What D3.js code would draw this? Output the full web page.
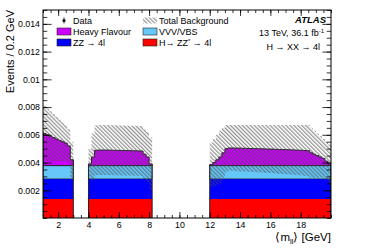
<!DOCTYPE html>
<html>
<head>
<meta charset="utf-8">
<script src="https://cdn.jsdelivr.net/npm/d3@7"></script>
<style>
  body { margin: 0; background: #fff; }
  svg { font-family: "Liberation Sans", Arial, sans-serif; }
</style>
</head>
<body>
<svg id="chart" width="374" height="250"></svg>
<script>
// chart data (0.2 GeV bins)
var binWidth = 0.2;
var regionStarts = [1.0, 4.0, 12.0];

// flat components, same in every bin
var hzzValue = 0.00137;   // H -> ZZ* -> 4l
var zzValue = 0.00146;    // ZZ -> 4l
var vvvValue = 0.00095;   // VVV/VBS

// heavy flavour per bin, one array per mass window
var hfLow = [0.00232, 0.00222, 0.00212, 0.00202, 0.00192, 0.00182, 0.00172, 0.00162, 0.00142, 0.00042];
var hfMid = [0.00012, 0.00062, 0.0011, 0.00112, 0.00112, 0.00112, 0.00112, 0.00111, 0.0011, 0.0011,
  0.00109, 0.00109, 0.00108, 0.00108, 0.00107, 0.00107, 0.00106, 0.00105, 0.00082, 0.00062, 0.00012];
var hfHigh = [0.00007, 0.00022, 0.00042, 0.00062, 0.00092, 0.00122,
  0.00127, 0.00127, 0.00126, 0.00126, 0.00125, 0.00125, 0.00124, 0.00123, 0.00123, 0.00122,
  0.00121, 0.00121, 0.0012, 0.00119, 0.00119, 0.00118, 0.00117, 0.00116, 0.00116, 0.00115,
  0.00114, 0.00113, 0.00112, 0.00111, 0.0011, 0.00109, 0.00107,
  0.00092, 0.00082, 0.00072, 0.00062, 0.00052, 0.00032, 0.00012];

// total background uncertainty per bin
var errLow = [0.0020, 0.0019, 0.0018, 0.0017, 0.0016, 0.0015, 0.0014, 0.0013, 0.0012, 0.0013];
var errMid = [0.0011, 0.0017, 0.0018, 0.0018, 0.0018, 0.0018, 0.0018, 0.0018, 0.0018, 0.0018,
  0.0018, 0.0018, 0.0018, 0.0018, 0.0018, 0.0018, 0.0018, 0.0018, 0.0018, 0.0018, 0.0019];
var errHigh = [0.0016, 0.0017, 0.0018, 0.0019, 0.0018, 0.0017,
  0.00165, 0.00165, 0.00166, 0.00166, 0.00167, 0.00167, 0.00168, 0.00169, 0.00169, 0.0017,
  0.00171, 0.00171, 0.00172, 0.00173, 0.00173, 0.00174, 0.00175, 0.00176, 0.00176, 0.00177,
  0.00178, 0.00179, 0.0018, 0.00181, 0.00182, 0.00183, 0.00185,
  0.0018, 0.0017, 0.0016, 0.0015, 0.0014, 0.0014, 0.0014];

var xTicks = [2, 4, 6, 8, 10, 12, 14, 16, 18];
var yTicks = [0.002, 0.004, 0.006, 0.008, 0.01, 0.012, 0.014];

var hfRegions = [hfLow, hfMid, hfHigh];
var errRegions = [errLow, errMid, errHigh];

var colors = {
  hzz: "#ff0000",
  zz: "#0000ff",
  vvv: "#66c8f8",
  hf: "#cc00ff"
};

var margin = {top: 10, right: 43, bottom: 32, left: 43},
    width = 374 - margin.left - margin.right,
    height = 250 - margin.top - margin.bottom;

var svg = d3.select("#chart");

var defs = svg.append("defs");
var hatch = defs.append("pattern")
  .attr("id", "hatch")
  .attr("patternUnits", "userSpaceOnUse")
  .attr("width", 2.8)
  .attr("height", 2.8)
  .attr("patternTransform", "rotate(-45)");
hatch.append("line")
  .attr("x1", 0.7).attr("y1", 0).attr("x2", 0.7).attr("y2", 2.8)
  .attr("stroke", "#4a4a4a")
  .attr("stroke-width", 0.75);

defs.append("clipPath").attr("id", "plotclip")
  .append("rect").attr("width", width).attr("height", height);

var g = svg.append("g").attr("transform", "translate(" + margin.left + "," + margin.top + ")");

var x = d3.scaleLinear().domain([1, 20]).range([0, width]);
var y = d3.scaleLinear().domain([0, 0.015]).range([height, 0]);

// build stacked rows per region
var regions = regionStarts.map(function(start, r) {
  var rows = hfRegions[r].map(function(hf, i) {
    var b0 = hzzValue, b1 = b0 + zzValue, b2 = b1 + vvvValue, b3 = b2 + hf;
    return {x: start + i * binWidth, hzz: [0, b0], zz: [b0, b1], vvv: [b1, b2], hf: [b2, b3],
            err: errRegions[r][i], total: b3};
  });
  // closing point so the last step reaches the region edge
  var last = rows[rows.length - 1];
  rows.push(Object.assign({}, last, {x: last.x + binWidth}));
  return rows;
});

var plot = g.append("g").attr("clip-path", "url(#plotclip)");

var layers = ["hzz", "zz", "vvv", "hf"];
layers.forEach(function(key) {
  var area = d3.area()
    .curve(d3.curveStepAfter)
    .x(function(d) { return x(d.x); })
    .y0(function(d) { return y(d[key][0]); })
    .y1(function(d) { return y(d[key][1]); });

  regions.forEach(function(rows) {
    plot.append("path")
      .datum(rows)
      .attr("d", area)
      .attr("fill", colors[key])
      .attr("stroke", key == "hzz" || key == "zz" ? "none" : "#222")
      .attr("stroke-width", key == "hf" ? 1 : 0.6);
  });
});

// vertical edges of each window
regions.forEach(function(rows) {
  var top = rows[0].total, topEnd = rows[rows.length - 1].total;
  plot.append("line")
    .attr("x1", x(rows[0].x)).attr("x2", x(rows[0].x))
    .attr("y1", y(0)).attr("y2", y(top))
    .attr("stroke", "#222").attr("stroke-width", 1);
  plot.append("line")
    .attr("x1", x(rows[rows.length - 1].x)).attr("x2", x(rows[rows.length - 1].x))
    .attr("y1", y(0)).attr("y2", y(topEnd))
    .attr("stroke", "#222").attr("stroke-width", 1);
});

// uncertainty band
var band = d3.area()
  .curve(d3.curveStepAfter)
  .x(function(d) { return x(d.x); })
  .y0(function(d) { return y(d.total - d.err); })
  .y1(function(d) { return y(d.total + d.err); });

regions.forEach(function(rows) {
  plot.append("path")
    .datum(rows)
    .attr("d", band)
    .attr("fill", "url(#hatch)")
    .attr("stroke", "none");
});

// axes, ticks pointing inside on all four sides
function noLabel() { return ""; }
var xMinor = d3.range(1, 20.01, 0.5);
var yMinor = d3.range(0, 0.0151, 0.0005);

g.append("g").attr("class", "axis")
  .attr("transform", "translate(0," + height + ")")
  .call(d3.axisBottom(x).tickValues(xMinor).tickSize(-3).tickFormat(noLabel));
g.append("g").attr("class", "axis")
  .attr("transform", "translate(0," + height + ")")
  .call(d3.axisBottom(x).tickValues(xTicks).tickSize(-6).tickPadding(4).tickFormat(d3.format("d")));
g.append("g").attr("class", "axis")
  .call(d3.axisTop(x).tickValues(xMinor).tickSize(-3).tickFormat(noLabel));
g.append("g").attr("class", "axis")
  .call(d3.axisTop(x).tickValues(xTicks).tickSize(-6).tickFormat(noLabel));

g.append("g").attr("class", "axis")
  .call(d3.axisLeft(y).tickValues(yMinor).tickSize(-4.3).tickFormat(noLabel));
g.append("g").attr("class", "axis")
  .call(d3.axisLeft(y).tickValues(yTicks).tickSize(-8.6).tickPadding(3)
    .tickFormat(function(d) { return String(+d.toFixed(3)); }));
g.append("g").attr("class", "axis")
  .attr("transform", "translate(" + width + ",0)")
  .call(d3.axisRight(y).tickValues(yMinor).tickSize(-4.3).tickFormat(noLabel));
g.append("g").attr("class", "axis")
  .attr("transform", "translate(" + width + ",0)")
  .call(d3.axisRight(y).tickValues(yTicks).tickSize(-8.6).tickFormat(noLabel));

g.selectAll(".axis .domain").remove();
g.selectAll(".axis text")
  .attr("font-size", "8.8px")
  .attr("font-family", "Liberation Sans, Arial, sans-serif")
  .attr("fill", "#000");
g.selectAll(".axis line").attr("stroke", "#000").attr("stroke-width", 0.8);

g.append("rect")
  .attr("width", width).attr("height", height)
  .attr("fill", "none").attr("stroke", "#000").attr("stroke-width", 1);

// axis titles
svg.append("text")
  .attr("transform", "translate(14," + margin.top + ") rotate(-90)")
  .attr("text-anchor", "end")
  .attr("font-size", "11px")
  .text("Events / 0.2 GeV");

var xt = svg.append("text")
  .attr("x", margin.left + width)
  .attr("y", 241)
  .attr("text-anchor", "end")
  .attr("font-size", "11.5px");
xt.append("tspan").text("\u27E8m");
xt.append("tspan").attr("font-size", "7.5px").attr("dy", 2.5).text("ll");
xt.append("tspan").attr("dy", -2.5).text("\u27E9 [GeV]");

// legend
var legend = svg.append("g").attr("font-size", "9px");
var legendRows = [
  {col: 0, row: 0, label: "Data", kind: "data"},
  {col: 0, row: 1, label: "Heavy Flavour", fill: colors.hf},
  {col: 0, row: 2, label: "ZZ \u2192 4l", fill: colors.zz},
  {col: 1, row: 0, label: "Total Background", kind: "hatch"},
  {col: 1, row: 1, label: "VVV/VBS", fill: colors.vvv},
  {col: 1, row: 2, label: "H\u2192 ZZ* \u2192 4l", fill: colors.hzz}
];
var colX = [57, 143], rowY = [20.5, 31.5, 42.5];

legendRows.forEach(function(item) {
  var bx = colX[item.col], cy = rowY[item.row];
  if (item.kind == "data") {
    legend.append("line")
      .attr("x1", bx + 7).attr("x2", bx + 7)
      .attr("y1", cy - 3).attr("y2", cy + 3)
      .attr("stroke", "#000").attr("stroke-width", 0.8);
    legend.append("circle")
      .attr("cx", bx + 7).attr("cy", cy).attr("r", 1.6).attr("fill", "#000");
  } else if (item.kind == "hatch") {
    legend.append("rect")
      .attr("x", bx).attr("y", cy - 3).attr("width", 14).attr("height", 6)
      .attr("fill", "url(#hatch)");
  } else {
    legend.append("rect")
      .attr("x", bx).attr("y", cy - 3.5).attr("width", 14).attr("height", 7)
      .attr("fill", item.fill).attr("stroke", "#222").attr("stroke-width", 0.6);
  }
  var t = legend.append("text")
    .attr("x", bx + 16)
    .attr("y", cy + 3.2);
  if (item.label.indexOf("ZZ*") >= 0) {
    t.append("tspan").text("H\u2192 ZZ");
    t.append("tspan").attr("font-size", "6px").attr("dy", -3).text("*");
    t.append("tspan").attr("dy", 3).text(" \u2192 4l");
  } else {
    t.text(item.label);
  }
});

// ATLAS label block
var right = margin.left + width - 5;
svg.append("text")
  .attr("x", right).attr("y", 23)
  .attr("text-anchor", "end")
  .attr("font-size", "9.5px")
  .attr("font-weight", "bold")
  .attr("font-style", "italic")
  .text("ATLAS");

var lumi = svg.append("text")
  .attr("x", right - 2).attr("y", 36)
  .attr("text-anchor", "end")
  .attr("font-size", "9px");
lumi.append("tspan").text("13 TeV, 36.1 fb");
lumi.append("tspan").attr("font-size", "6px").attr("dy", -3.5).text("-1");

svg.append("text")
  .attr("x", right - 6).attr("y", 50)
  .attr("text-anchor", "end")
  .attr("font-size", "9px")
  .text("H \u2192 XX \u2192 4l");
</script>
</body>
</html>
